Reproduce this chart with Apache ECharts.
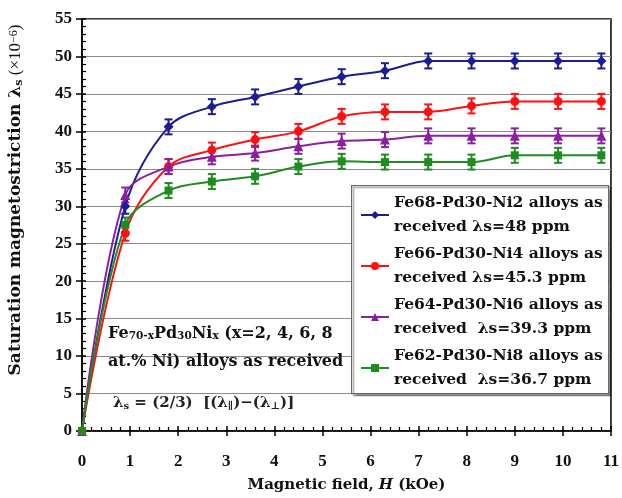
<!DOCTYPE html>
<html lang="en">
<head>
    <meta charset="utf-8">
    <title>Magnetostriction</title>
    <script src="https://cdn.jsdelivr.net/npm/echarts@6/dist/echarts.min.js"></script>
</head>
<body style="margin:0;background:#fff;">
<div id="main" style="width: 622px;height:498px;"></div>
<script type="text/javascript">
    // magnetic field H (kOe)
    var fieldH = [0, 0.9, 1.8, 2.7, 3.6, 4.5, 5.4, 6.3, 7.2, 8.1, 9.0, 9.9, 10.8];
    // saturation magnetostriction (x10^-6)
    var ni2 = [0, 30.0, 40.6, 43.3, 44.6, 46.0, 47.3, 48.1, 49.4, 49.4, 49.4, 49.4, 49.4];
    var ni4 = [0, 26.4, 35.3, 37.5, 38.9, 40.0, 42.0, 42.6, 42.6, 43.4, 44.0, 44.0, 44.0];
    var ni6 = [0, 31.5, 35.3, 36.6, 37.1, 38.0, 38.7, 38.9, 39.4, 39.4, 39.4, 39.4, 39.4];
    var ni8 = [0, 27.5, 32.1, 33.3, 34.0, 35.3, 36.0, 35.9, 35.9, 35.9, 36.8, 36.8, 36.8];
    var errBar = [0, 1, 1, 1, 1, 1, 1, 1, 1, 1, 1, 1, 1];
    var names = [
        'Fe68-Pd30-Ni2 alloys as\nreceived λs=48 ppm',
        'Fe66-Pd30-Ni4 alloys as\nreceived λs=45.3 ppm',
        'Fe64-Pd30-Ni6 alloys as\nreceived  λs=39.3 ppm',
        'Fe62-Pd30-Ni8 alloys as\nreceived  λs=36.7 ppm'
    ];
    var yTicks = [0, 5, 10, 15, 20, 25, 30, 35, 40, 45, 50, 55];
    var xTicks = [0, 1, 2, 3, 4, 5, 6, 7, 8, 9, 10, 11];

    var colors = ['#1c1c96', '#ff1010', '#8a1fa0', '#1f8c1f'];
    var symbols = ['diamond', 'circle', 'triangle', 'rect'];
    var symSizes = [10, 9, 10, 8];
    var allY = [ni2, ni4, ni6, ni8];
    var font = 'Liberation Serif';
    var wide = 'DejaVu Serif';

    var myChart = echarts.init(document.getElementById('main'));

    var series = [];
    allY.forEach(function (ys, k) {
        var pts = [];
        for (var i = 0; i < fieldH.length; i++) pts.push([fieldH[i], ys[i], errBar[i]]);
        series.push({
            name: names[k],
            type: 'line',
            data: pts,
            smooth: 0.35,
            symbol: symbols[k],
            symbolSize: symSizes[k],
            lineStyle: {color: colors[k], width: 2},
            itemStyle: {color: colors[k]},
            z: 3
        });
        series.push({
            type: 'custom',
            data: pts,
            z: 2,
            renderItem: function (params, api) {
                var x = api.value(0), y = api.value(1), e = api.value(2);
                if (!e) return;
                var hi = api.coord([x, y + e]);
                var lo = api.coord([x, y - e]);
                var c = 4;
                var st = {stroke: colors[k], lineWidth: 2};
                return {
                    type: 'group',
                    children: [
                        {type: 'line', shape: {x1: hi[0], y1: hi[1], x2: lo[0], y2: lo[1]}, style: st},
                        {type: 'line', shape: {x1: hi[0] - c, y1: hi[1], x2: hi[0] + c, y2: hi[1]}, style: st},
                        {type: 'line', shape: {x1: lo[0] - c, y1: lo[1], x2: lo[0] + c, y2: lo[1]}, style: st}
                    ]
                };
            }
        });
    });

    var tickLabel = {fontFamily: font, fontWeight: 'bold', fontSize: 17, color: '#111'};

    var option = {
        animation: false,
        grid: {
            left: 82, top: 19, right: 9, bottom: 67,
            show: true, borderColor: '#000', borderWidth: 1.5
        },
        xAxis: [{
            type: 'value',
            min: xTicks[0], max: xTicks[xTicks.length - 1], interval: 1,
            name: '{b|Magnetic field, }{i|H}{b| (kOe)}',
            nameLocation: 'middle',
            nameGap: 47,
            nameTextStyle: {
                rich: {
                    b: {fontFamily: wide, fontWeight: 'bold', fontSize: 15, color: '#111'},
                    i: {fontFamily: wide, fontWeight: 'bold', fontStyle: 'italic', fontSize: 15, color: '#111'}
                }
            },
            axisLine: {lineStyle: {color: '#000', width: 1.5}},
            axisTick: {inside: false, length: 5, lineStyle: {color: '#000', width: 1.5}},
            axisLabel: Object.assign({margin: 22}, tickLabel),
            splitLine: {show: false}
        }, {
            type: 'value', position: 'bottom',
            min: xTicks[0], max: xTicks[xTicks.length - 1], interval: 1,
            axisLine: {show: false},
            axisTick: {inside: true, length: 5, lineStyle: {color: '#000', width: 1.5}},
            minorTick: {show: true, splitNumber: 5, length: 4, lineStyle: {color: '#000', width: 1.2}},
            axisLabel: {show: false},
            splitLine: {show: false}
        }],
        yAxis: [{
            type: 'value',
            min: yTicks[0], max: yTicks[yTicks.length - 1], interval: 5,
            axisLine: {show: true, lineStyle: {color: '#000', width: 1.5}},
            axisTick: {show: true, inside: false, length: 6, lineStyle: {color: '#000', width: 1.5}},
            axisLabel: Object.assign({margin: 10}, tickLabel),
            splitLine: {show: true, lineStyle: {color: '#8c8c8c', width: 1.2}}
        }, {
            type: 'value', position: 'left',
            min: yTicks[0], max: yTicks[yTicks.length - 1], interval: 5,
            axisLine: {show: false},
            axisTick: {show: true, inside: true, length: 4, lineStyle: {color: '#000', width: 1.5}},
            minorTick: {show: true, splitNumber: 5, length: 4, lineStyle: {color: '#000', width: 1.2}},
            axisLabel: {show: false},
            splitLine: {show: false}
        }],
        legend: {
            orient: 'vertical',
            left: 360,
            top: 179,
            padding: 0,
            itemWidth: 28,
            itemHeight: 10,
            itemGap: -21,
            selectedMode: false,
            data: names,
            textStyle: {
                fontFamily: wide, fontWeight: 'bold', fontSize: 15.5, color: '#111',
                lineHeight: 24, padding: [24, 0, 0, 0]
            }
        },
        graphic: [
            {
                type: 'rect', left: 351, top: 185, z: 1,
                shape: {width: 257, height: 208},
                style: {fill: '#fff', stroke: '#666', lineWidth: 1.2,
                    shadowColor: 'rgba(0,0,0,0.35)', shadowOffsetX: 2, shadowOffsetY: 2, shadowBlur: 1}
            },
            {
                type: 'text', x: 16, y: 200, rotation: Math.PI / 2, z: 10,
                style: {
                    text: '{t|Saturation magnetostriction λ}{s|s}{n| (×10}{p|−6}{n|)}',
                    align: 'center', verticalAlign: 'middle',
                    rich: {
                        t: {fontFamily: wide, fontWeight: 'bold', fontSize: 17, fill: '#111'},
                        s: {fontFamily: wide, fontWeight: 'bold', fontSize: 11, fill: '#111', verticalAlign: 'bottom'},
                        n: {fontFamily: font, fontSize: 17, fill: '#111'},
                        p: {fontFamily: font, fontSize: 12, fill: '#111', verticalAlign: 'top'}
                    }
                }
            },
            {
                type: 'text', left: 108, top: 326, z: 10,
                style: {
                    text: '{b|Fe}{s|70-x}{b|Pd}{s|30}{b|Ni}{s|x}{b| (x=2, 4, 6, 8}\n{b|at.% Ni) alloys as received}',
                    rich: {
                        b: {fontFamily: wide, fontWeight: 'bold', fontSize: 16, fill: '#111', lineHeight: 28},
                        s: {fontFamily: wide, fontWeight: 'bold', fontSize: 10.5, fill: '#111', verticalAlign: 'bottom', padding: [0, 0, 6, 0]}
                    }
                }
            },
            {
                type: 'text', left: 113, top: 396, z: 10,
                style: {
                    text: '{b|λ}{s|s}{b| = (2/3)  [(λ}{s|∥}{b|)−(λ}{s|⊥}{b|)]}',
                    rich: {
                        b: {fontFamily: wide, fontWeight: 'bold', fontSize: 15, fill: '#222', lineHeight: 22},
                        s: {fontFamily: wide, fontWeight: 'bold', fontSize: 10, fill: '#222', verticalAlign: 'bottom', padding: [0, 0, 3, 0]}
                    }
                }
            }
        ],
        series: series
    };

    myChart.setOption(option);
</script>
</body>
</html>
